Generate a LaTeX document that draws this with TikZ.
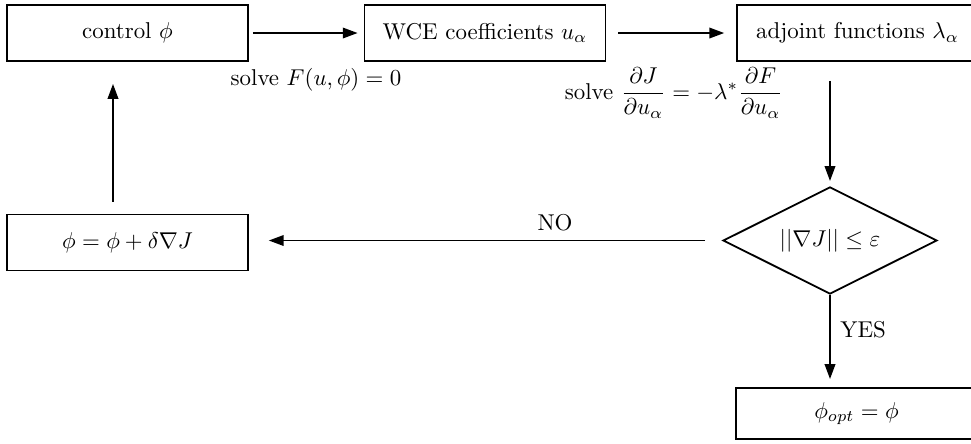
\documentclass[tikz,border=0pt]{standalone}
\usepackage{amsmath}
\usetikzlibrary{arrows.meta,shapes.geometric,calc}
\begin{document}
\begin{tikzpicture}[x=0.437pt,y=-0.437pt,
  box/.style={draw,line width=0.8pt,rectangle,minimum width=105.3pt,minimum height=24.5pt,inner sep=0pt},
  dia/.style={draw,line width=0.8pt,diamond,aspect=2.4,minimum width=93.5pt,minimum height=46.8pt,inner sep=0pt},
  arr/.style={line width=0.8pt,-{Triangle[length=6.5pt,width=4.6pt]}},
  lbl/.style={inner sep=0pt}]
\useasboundingbox (0,0) rectangle (971,443);
\clip (0,0) rectangle (971,443);
\node[box] (ctrl) at (127.5,33) {control $\phi$};
\node[box] (wce) at (485,33) {WCE coefficients $u_\alpha$};
\node[box] (adj) at (857.5,33) {adjoint functions $\lambda_\alpha$};
\node[box] (upd) at (127.5,242.5) {$\phi=\phi+\delta\nabla J$};
\node[dia] (dec) at (830,240.5) {$||\nabla J||\leq\varepsilon$};
\node[box,minimum height=22.3pt] (opt) at (856.5,413.5) {$\phi_{opt}=\phi$};
\node[lbl] (l1) at (316,80) {solve $F(u,\phi)=0$};
\node[lbl] (l2) at (674,93) {solve $\dfrac{\partial J}{\partial u_\alpha}=-\lambda^*\dfrac{\partial F}{\partial u_\alpha}$};
\node[lbl] (lno) at (555,223) {NO};
\node[lbl,anchor=west] (lyes) at (840,330) {YES};
\draw[arr,shorten <=1.7pt,shorten >=2.6pt] (ctrl.east) -- (wce.west);
\draw[arr,shorten <=5.2pt,shorten >=5.2pt] (wce.east) -- (adj.west);
\draw[arr,shorten <=8.3pt,shorten >=2.2pt] (dec.north |- adj.south) -- (dec.north);
\draw[arr,shorten <=7.4pt,shorten >=8.7pt,yshift=1.1pt] (dec.west) -- (dec.west -| upd.east);
\draw[arr,shorten >=3.5pt] (dec.south) -- (opt.north -| dec.south);
\draw[arr,shorten <=5.2pt,shorten >=9.6pt] ($(upd.north)+(-14.5,0)$) -- ($(ctrl.south)+(-14.5,0)$);
\end{tikzpicture}
\end{document}
